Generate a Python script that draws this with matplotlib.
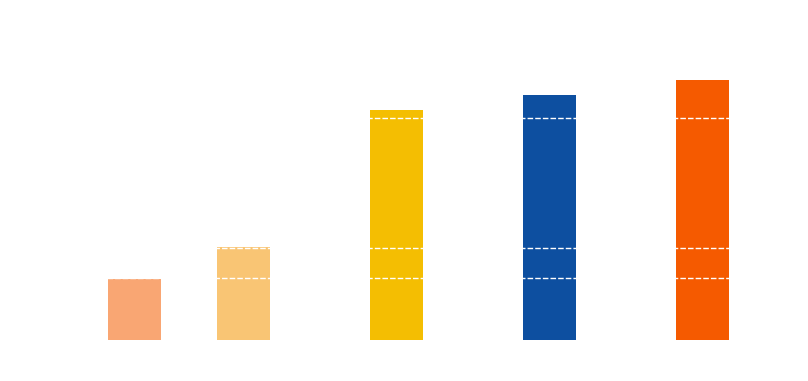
import matplotlib
matplotlib.use("Agg")
import matplotlib.pyplot as plt

# Data (arbitrary units)
categories = ["A", "B", "C", "D", "E"]
values = [61, 93, 230, 245, 260]
ref_lines = [62, 92, 222]
colors = ["#F9A673", "#F9C574", "#F4BE02", "#0D4FA0", "#F55A00"]
positions = [134.5, 243.5, 396.5, 549.5, 702.5]

fig = plt.figure(figsize=(8.08, 3.81), dpi=100)
ax = fig.add_axes([0, 0, 1, 1])
ax.bar(positions, values, width=53, color=colors, zorder=1)
for v in ref_lines:
    ax.axhline(v, color="white", lw=1.0, ls=(0, (4, 1.5)), zorder=2)
ax.set_xlim(0, 808)
ax.set_ylim(-41, 340)
ax.axis("off")
fig.savefig("out.png", dpi=100)
